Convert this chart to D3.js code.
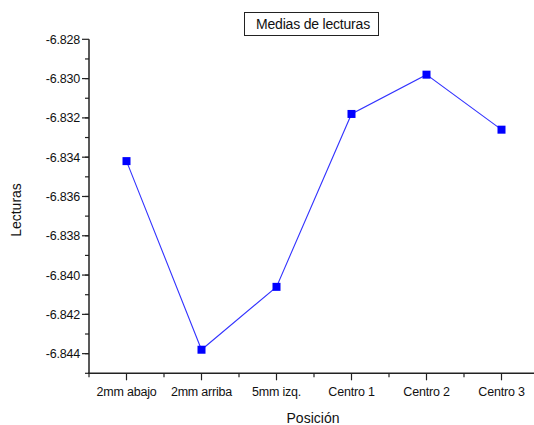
<!DOCTYPE html>
<html>
<head>
<meta charset="utf-8">
<script src="https://cdn.jsdelivr.net/npm/d3@7"></script>
<style>
  body { margin: 0; background: #fff; }
  svg { display: block; font-family: "Liberation Sans", Arial, sans-serif; }
</style>
</head>
<body>
<div id="chart"></div>
<script>
// Medias de lecturas por posición

var categories = ["2mm abajo", "2mm arriba", "5mm izq.", "Centro 1", "Centro 2", "Centro 3"];
var values = [-6.8342, -6.8438, -6.8406, -6.8318, -6.8298, -6.8326];
var yTicks = [-6.828, -6.830, -6.832, -6.834, -6.836, -6.838, -6.840, -6.842, -6.844];

var width = 534, height = 425;

var svg = d3.select("#chart")
  .append("svg")
    .attr("width", width)
    .attr("height", height);

// scales: x is an index scale, half a step of padding on each side
var x = d3.scaleLinear()
  .domain([0.5, categories.length + 0.5])
  .range([89, 539]);

var y = d3.scaleLinear()
  .domain([-6.845, -6.828])
  .range([373.3, 39.3]);

var axisColor = "#222";

// y axis - major ticks with labels, minor ticks in between
var yMinor = d3.range(0, 17).map(function(i) { return -6.845 + i * 0.001; });

var gy = svg.append("g")
  .attr("transform", "translate(" + x(0.5) + ",0)");

gy.append("line")
  .attr("y1", y(-6.845)).attr("y2", y(-6.828))
  .attr("stroke", axisColor).attr("stroke-width", 1.5);

gy.selectAll(".minor")
  .data(yMinor)
  .enter().append("line")
    .attr("x1", 0).attr("x2", -4)
    .attr("y1", function(d) { return y(d); })
    .attr("y2", function(d) { return y(d); })
    .attr("stroke", axisColor).attr("stroke-width", 1.2);

gy.selectAll(".major")
  .data(yTicks)
  .enter().append("line")
    .attr("x1", 0).attr("x2", -7)
    .attr("y1", function(d) { return y(d); })
    .attr("y2", function(d) { return y(d); })
    .attr("stroke", axisColor).attr("stroke-width", 1.2);

gy.selectAll(".lbl")
  .data(yTicks)
  .enter().append("text")
    .attr("x", -9)
    .attr("y", function(d) { return y(d); })
    .attr("dy", "0.36em")
    .attr("text-anchor", "end")
    .style("font-size", "12.5px")
    .style("letter-spacing", "-0.2px")
    .style("fill", "#111")
    .text(function(d) { return d3.format(".3f")(d).replace("−", "-"); });

// x axis
var xMinor = d3.range(0, categories.length + 1).map(function(i) { return 0.5 + i; });
var xMajor = d3.range(1, categories.length + 1);

var gx = svg.append("g")
  .attr("transform", "translate(0," + y(-6.845) + ")");

gx.append("line")
  .attr("x1", x(0.5) - 1).attr("x2", x(categories.length + 0.5))
  .attr("stroke", axisColor).attr("stroke-width", 1.5);

gx.selectAll(".minor")
  .data(xMinor)
  .enter().append("line")
    .attr("x1", function(d) { return x(d); })
    .attr("x2", function(d) { return x(d); })
    .attr("y1", 0).attr("y2", 4)
    .attr("stroke", axisColor).attr("stroke-width", 1.2);

gx.selectAll(".major")
  .data(xMajor)
  .enter().append("line")
    .attr("x1", function(d) { return x(d); })
    .attr("x2", function(d) { return x(d); })
    .attr("y1", 0).attr("y2", 7)
    .attr("stroke", axisColor).attr("stroke-width", 1.2);

gx.selectAll(".lbl")
  .data(categories)
  .enter().append("text")
    .attr("x", function(d, i) { return x(i + 1); })
    .attr("y", 23)
    .attr("text-anchor", "middle")
    .style("font-size", "12.5px")
    .style("letter-spacing", "-0.2px")
    .style("fill", "#111")
    .text(function(d) { return d; });

// axis titles
svg.append("text")
  .attr("x", 313)
  .attr("y", 423)
  .attr("text-anchor", "middle")
  .style("font-size", "14px")
  .style("fill", "#111")
  .text("Posición");

svg.append("text")
  .attr("transform", "translate(21,210) rotate(-90)")
  .attr("text-anchor", "middle")
  .style("font-size", "14px")
  .style("fill", "#111")
  .text("Lecturas");

// the line
var line = d3.line()
  .x(function(d, i) { return x(i + 1); })
  .y(function(d) { return y(d); });

svg.append("path")
  .datum(values)
  .attr("d", line)
  .attr("fill", "none")
  .attr("stroke", "#3333ff")
  .attr("stroke-width", 1.1);

// square markers
svg.selectAll(".pt")
  .data(values)
  .enter().append("rect")
    .attr("x", function(d, i) { return x(i + 1) - 4; })
    .attr("y", function(d) { return y(d) - 4; })
    .attr("width", 8)
    .attr("height", 8)
    .style("fill", "#0000ff");

// title box
var title = svg.append("g");
title.append("rect")
  .attr("x", 244.5).attr("y", 12.5)
  .attr("width", 134).attr("height", 23)
  .attr("fill", "#fff")
  .attr("stroke", "#222")
  .attr("stroke-width", 1);
title.append("text")
  .attr("x", 313)
  .attr("y", 29)
  .attr("text-anchor", "middle")
  .style("font-size", "14px")
  .style("letter-spacing", "-0.2px")
  .style("fill", "#111")
  .text("Medias de lecturas");
</script>
</body>
</html>
